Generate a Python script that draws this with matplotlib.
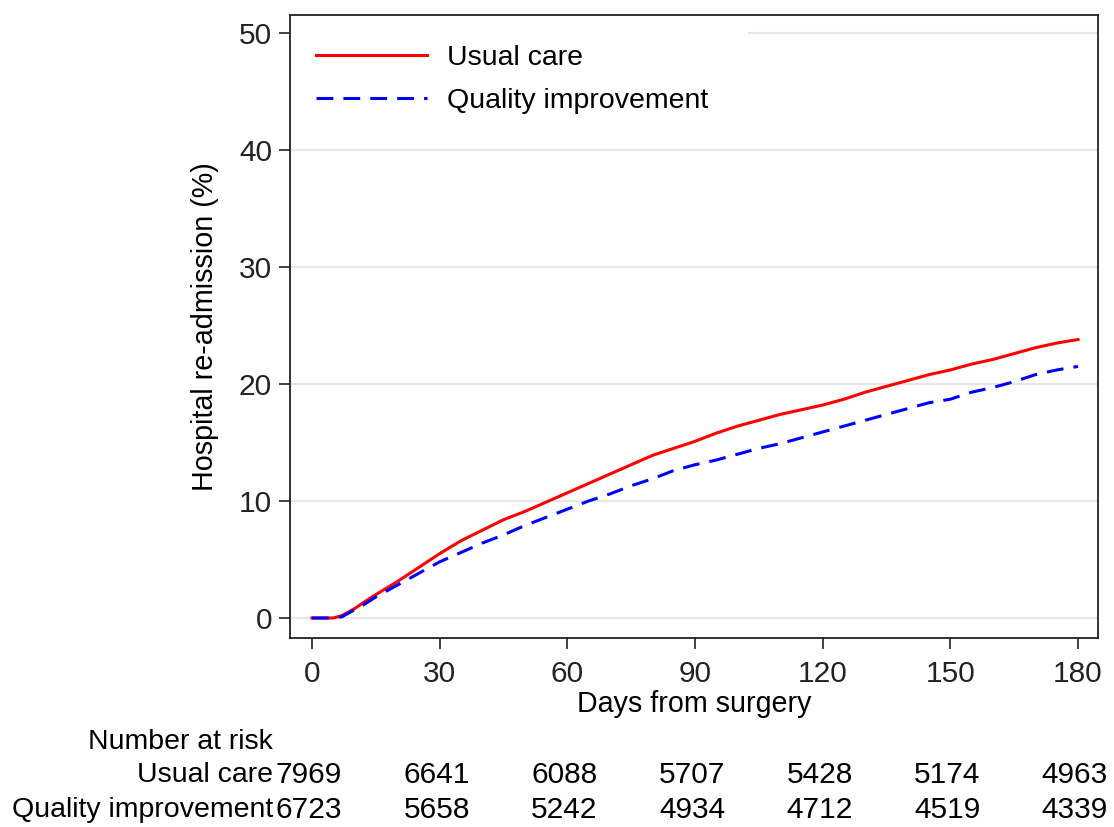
import matplotlib
matplotlib.use("Agg")
import matplotlib.pyplot as plt
from matplotlib.patches import Rectangle

plt.rcParams['font.family'] = ['Liberation Sans', 'DejaVu Sans']

days = [0, 5, 7, 10, 12, 15, 20, 25, 30, 35, 40, 45, 50, 55, 60, 65, 70, 75, 80, 85, 90,
        95, 100, 105, 110, 115, 120, 125, 130, 135, 140, 145, 150, 155, 160, 165, 170, 175, 180]
usual = [0, 0, 0.2, 0.8, 1.3, 2.0, 3.1, 4.3, 5.5, 6.6, 7.5, 8.4, 9.1, 9.9, 10.7, 11.5, 12.3,
         13.1, 13.9, 14.5, 15.1, 15.8, 16.4, 16.9, 17.4, 17.8, 18.2, 18.7, 19.3, 19.8, 20.3,
         20.8, 21.2, 21.7, 22.1, 22.6, 23.1, 23.5, 23.8]
quality = [0, 0, 0.1, 0.7, 1.1, 1.8, 2.8, 3.8, 4.8, 5.6, 6.4, 7.1, 7.9, 8.6, 9.3, 10.0, 10.6,
           11.3, 11.9, 12.6, 13.1, 13.5, 14.0, 14.5, 14.9, 15.4, 15.9, 16.4, 16.9, 17.4, 17.9,
           18.4, 18.7, 19.3, 19.7, 20.2, 20.8, 21.2, 21.5]

risk_days = [0, 30, 60, 90, 120, 150, 180]
risk_usual = [7969, 6641, 6088, 5707, 5428, 5174, 4963]
risk_quality = [6723, 5658, 5242, 4934, 4712, 4519, 4339]
group_names = ["Usual care", "Quality improvement"]
yticks = [0, 10, 20, 30, 40, 50]

W, H = 1114, 827
fig = plt.figure(figsize=(W / 100, H / 100), dpi=100)
ax = fig.add_axes([290 / W, 1 - 638 / H, 808 / W, 623 / H])

ax.plot(days, usual, color='#ff0000', lw=2.2, label=group_names[0], zorder=3)
ax.plot(days, quality, color='#0000ff', lw=2.2, ls=(0, (5.5, 3.3)), label=group_names[1], zorder=3)

ax.set_xlim(-5.17, 184.7)
ax.set_ylim(-1.71, 51.54)
ax.set_xticks(risk_days)
ax.set_yticks(yticks)
ax.yaxis.grid(True, color='#e6e6e6', lw=1.5)
ax.set_axisbelow(True)
for s in ax.spines.values():
    s.set_linewidth(1.3)
    s.set_color('#222222')
ax.tick_params(axis='both', length=8, width=1.2, labelsize=21.5, colors='#222222')
ax.tick_params(axis='y', pad=5)
ax.tick_params(axis='x', pad=8)

ax.set_xlabel("Days from surgery", fontsize=20.6, labelpad=1)
ax.set_ylabel("Hospital re-admission (%)", fontsize=20.7, labelpad=14)

# white backing of the legend region (hides the gridline)
ax.add_patch(Rectangle((0, (638 - 120) / 623), (748 - 290) / 808, 1 - (638 - 120) / 623,
                       transform=ax.transAxes, facecolor='white', edgecolor='none', zorder=1.5))

leg = ax.legend(loc='upper left', frameon=False, fontsize=20.5, handlelength=3.9,
                handletextpad=0.7, bbox_to_anchor=(26 / 808, (638 - 45) / 623),
                borderaxespad=0, borderpad=0, labelspacing=0.58)

fig.text(88 / W, 1 - 742 / H, "Number at risk", fontsize=20.5, ha='left', va='center')
row_y = [1 - 775 / H, 1 - 810 / H]
for name, vals, yy in zip(group_names, [risk_usual, risk_quality], row_y):
    fig.text(273 / W, yy, name, fontsize=20.5, ha='right', va='center')
    for d, v in zip(risk_days, vals):
        xf = fig.transFigure.inverted().transform(ax.transData.transform((d, 0)))[0]
        fig.text(xf - 3 / W, yy, str(v), fontsize=21.5, ha='center', va='center')

fig.savefig("out.png", dpi=100)
